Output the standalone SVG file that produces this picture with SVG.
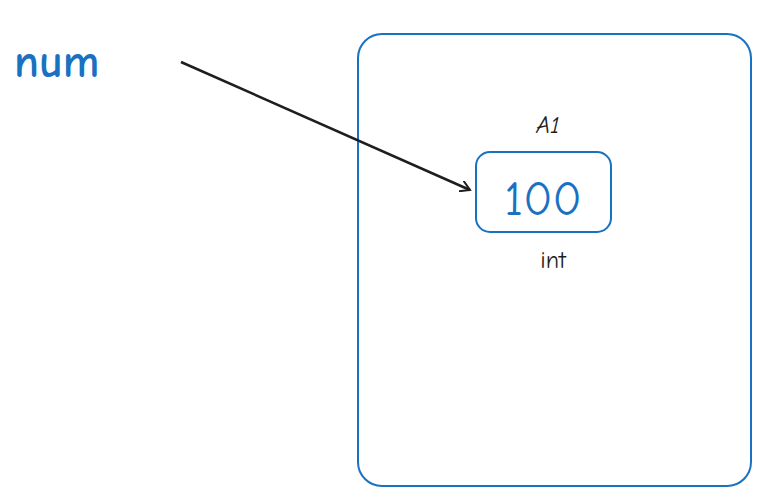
<svg xmlns="http://www.w3.org/2000/svg" width="761" height="496" viewBox="0 0 761 496">
<style>
.b{fill:none;stroke:#1971c2;stroke-width:2}
.t{font-family:"Comic Neue","Liberation Sans",sans-serif}
</style>
<defs><marker id="a" markerWidth="12" markerHeight="12" refX="10" refY="6" orient="auto" markerUnits="userSpaceOnUse"><path d="M0,0 L10,6 L0,12" fill="none" stroke="#1e1e1e" stroke-width="2"/></marker></defs>
<rect width="761" height="496" fill="#fff"/>
<g id="label-num"><text x="14" y="77" class="t" font-size="46" font-weight="bold" fill="#1971c2">num</text></g>
<g id="memory"><rect class="b" x="358" y="34" width="393" height="452" rx="24"/></g>
<g id="cell"><rect class="b" x="476" y="152" width="135" height="80" rx="14"/>
<text x="543" y="215" text-anchor="middle" class="t" font-size="48" fill="#1971c2">100</text>
<text x="548" y="133" text-anchor="middle" class="t" font-size="24" font-style="italic" fill="#1e1e1e">A1</text>
<text x="553" y="268" text-anchor="middle" class="t" font-size="24" fill="#1e1e1e">int</text></g>
<g id="connectors"><path d="M181,62 L470,190" stroke="#1e1e1e" stroke-width="2.5" fill="none" marker-end="url(#a)"/></g>
</svg>
